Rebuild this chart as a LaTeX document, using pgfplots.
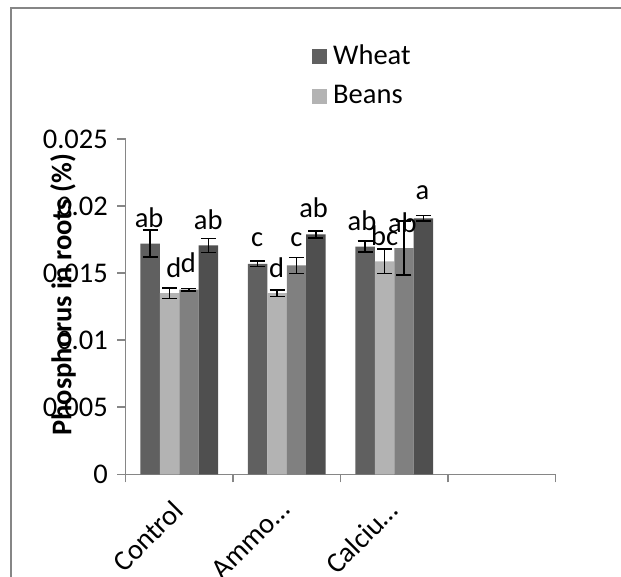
\documentclass[border=0pt]{standalone}
\usepackage{fontspec}
\setmainfont{Carlito}
\usepackage{pgfplots}
\pgfplotsset{compat=1.18}
\definecolor{cA}{HTML}{606060}
\definecolor{cB}{HTML}{B3B3B3}
\definecolor{cC}{HTML}{808080}
\definecolor{cD}{HTML}{4F4F4F}
\definecolor{axc}{HTML}{868686}
\pgfplotstableread{
x y e
0 0.01720 0.0010
1 0.01569 0.0002
2 0.01698 0.0004
}\wheat
\pgfplotstableread{
x y e
0 0.01350 0.0004
1 0.01350 0.00025
2 0.01588 0.0009
}\beans
\pgfplotstableread{
x y e
0 0.01377 0.0001
1 0.01558 0.0006
2 0.01687 0.0020
}\seriesc
\pgfplotstableread{
x y e
0 0.01706 0.00053
1 0.01788 0.00027
2 0.01909 0.0002
}\seriesd
\begin{document}
\begin{tikzpicture}[x=1pt,y=1pt]
\fontsize{28.5}{34}\selectfont
\path[use as bounding box] (0,0) rectangle (621,577);
\draw[axc, line width=2pt] (11,0) -- (11,569) -- (621,569);
\begin{axis}[
  at={(125.5pt,102.7pt)}, anchor=south west,
  scale only axis, width=430pt, height=335.3pt,
  xmin=-0.5, xmax=3.5, ymin=0, ymax=0.025,
  ybar=0pt, bar width=0.1805,
  axis x line*=bottom, axis y line*=left,
  axis line style={axc, line width=1.5pt},
  tick align=outside, major tick length=8pt,
  tick style={axc, line width=1.5pt},
  scaled y ticks=false,
  ytick={0,0.005,0.01,0.015,0.02,0.025},
  yticklabels={0,0.005,0.01,0.015,0.02,0.025},
  xtick={-0.5,0.5,1.5,2.5,3.5},
  xticklabels={},
  extra x ticks={0,1,2},
  extra x tick labels={Control,Ammo…,Calciu…},
  extra x tick style={tick style={draw=none}, tick label style={rotate=45, anchor=north east, xshift=-8pt, yshift=4pt}},
  /pgf/number format/assume math mode=true,
  ylabel={\bfseries Phosphorus in roots (\%)},
  ylabel style={at={(axis description cs:-0.145,0.535)}, anchor=center},
  legend style={at={(0.4337,1.286)}, anchor=north west, draw=none, fill=none, inner sep=0pt, row sep=15pt, nodes={inner sep=1pt}},
  legend cell align=left,
  legend image code/.code={\fill[#1] (0pt,-7.5pt) rectangle (15pt,7.5pt); \path (20pt,0pt);},
  error bars/y dir=both, error bars/y explicit,
  error bars/error bar style={black, line width=1.5pt},
  error bars/error mark options={rotate=90, mark size=7.5pt, line width=1.5pt, black},
]
\addplot[fill=cA, draw=none] table[x=x,y=y,y error=e] {\wheat};
\addlegendentry{Wheat}
\addplot[fill=cB, draw=none] table[x=x,y=y,y error=e] {\beans};
\addlegendentry{Beans}
\addplot[fill=cC, draw=none] table[x=x,y=y,y error=e] {\seriesc};
\addplot[fill=cD, draw=none] table[x=x,y=y,y error=e] {\seriesd};
\node at (axis cs:-0.28,0.0191) {ab};
\node at (axis cs:-0.05,0.01539) {d};
\node at (axis cs:0.085,0.01574) {d};
\node at (axis cs:0.27,0.0190) {ab};
\node at (axis cs:0.725,0.01752) {c};
\node at (axis cs:0.905,0.01539) {d};
\node at (axis cs:1.09,0.0175) {c};
\node at (axis cs:1.25,0.01985) {ab};
\node at (axis cs:1.70,0.0189) {ab};
\node at (axis cs:1.91,0.01777) {bc};
\node at (axis cs:2.075,0.01878) {ab};
\node at (axis cs:2.263,0.02103) {a};
\end{axis}
\end{tikzpicture}
\end{document}
